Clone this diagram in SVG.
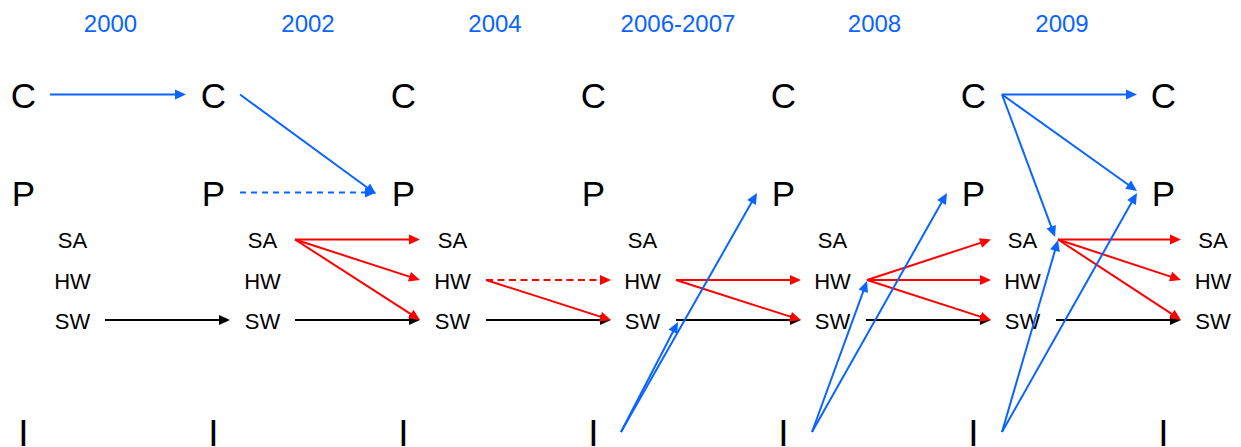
<svg xmlns="http://www.w3.org/2000/svg" width="1241" height="447" viewBox="0 0 1241 447">
<style>
text{font-family:"Liberation Sans",Arial,sans-serif;text-anchor:middle;fill:#000}
.yr{font-size:24px;fill:#0a64ff}
.big{font-size:35px}
.sm{font-size:22px}
.tick{font-size:37px}
.b{stroke:#0a64ff;stroke-width:2;fill:none}
.r{stroke:#ff0000;stroke-width:2;fill:none}
.k{stroke:#000;stroke-width:2;fill:none}
.bd{stroke-dasharray:6,5}
.rd{stroke-dasharray:7,4.5}
.b{marker-end:url(#ab)}
.r{marker-end:url(#ar)}
.k{marker-end:url(#ak)}
</style>
<defs>
<marker id="ab" markerUnits="userSpaceOnUse" markerWidth="12" markerHeight="11" refX="8" refY="5" orient="auto" overflow="visible"><path d="M0,0L11,5L0,10z" fill="#0a64ff"/></marker>
<marker id="ar" markerUnits="userSpaceOnUse" markerWidth="12" markerHeight="11" refX="8" refY="5" orient="auto" overflow="visible"><path d="M0,0L11,5L0,10z" fill="#ff0000"/></marker>
<marker id="ak" markerUnits="userSpaceOnUse" markerWidth="12" markerHeight="11" refX="8" refY="5" orient="auto" overflow="visible"><path d="M0,0L11,5L0,10z" fill="#000"/></marker>
</defs>
<g id="years">
<text class="yr" x="110.5" y="32">2000</text>
<text class="yr" x="308" y="32">2002</text>
<text class="yr" x="495" y="32">2004</text>
<text class="yr" x="678" y="32">2006-2007</text>
<text class="yr" x="874.5" y="32">2008</text>
<text class="yr" x="1062" y="32">2009</text>
</g>
<g id="C1"><text class="big" x="23.5" y="108">C</text></g>
<g id="C2"><text class="big" x="213.5" y="108">C</text></g>
<g id="C3"><text class="big" x="403.5" y="108">C</text></g>
<g id="C4"><text class="big" x="593.5" y="108">C</text></g>
<g id="C5"><text class="big" x="783.5" y="108">C</text></g>
<g id="C6"><text class="big" x="973.5" y="108">C</text></g>
<g id="C7"><text class="big" x="1163.5" y="108">C</text></g>
<g id="P1"><text class="big" x="23.5" y="206">P</text></g>
<g id="P2"><text class="big" x="213.5" y="206">P</text></g>
<g id="P3"><text class="big" x="403.5" y="206">P</text></g>
<g id="P4"><text class="big" x="593.5" y="206">P</text></g>
<g id="P5"><text class="big" x="783.5" y="206">P</text></g>
<g id="P6"><text class="big" x="973.5" y="206">P</text></g>
<g id="P7"><text class="big" x="1163.5" y="206">P</text></g>
<g id="SA1"><text class="sm" x="72.5" y="248">SA</text></g>
<g id="SA2"><text class="sm" x="262.5" y="248">SA</text></g>
<g id="SA3"><text class="sm" x="452.5" y="248">SA</text></g>
<g id="SA4"><text class="sm" x="642.5" y="248">SA</text></g>
<g id="SA5"><text class="sm" x="832.5" y="248">SA</text></g>
<g id="SA6"><text class="sm" x="1022.5" y="248">SA</text></g>
<g id="SA7"><text class="sm" x="1213" y="248">SA</text></g>
<g id="HW1"><text class="sm" x="72.5" y="289">HW</text></g>
<g id="HW2"><text class="sm" x="262.5" y="289">HW</text></g>
<g id="HW3"><text class="sm" x="452.5" y="289">HW</text></g>
<g id="HW4"><text class="sm" x="642.5" y="289">HW</text></g>
<g id="HW5"><text class="sm" x="832.5" y="289">HW</text></g>
<g id="HW6"><text class="sm" x="1022.5" y="289">HW</text></g>
<g id="HW7"><text class="sm" x="1213" y="289">HW</text></g>
<g id="SW1"><text class="sm" x="72.5" y="329">SW</text></g>
<g id="SW2"><text class="sm" x="262.5" y="329">SW</text></g>
<g id="SW3"><text class="sm" x="452.5" y="329">SW</text></g>
<g id="SW4"><text class="sm" x="642.5" y="329">SW</text></g>
<g id="SW5"><text class="sm" x="832.5" y="329">SW</text></g>
<g id="SW6"><text class="sm" x="1022.5" y="329">SW</text></g>
<g id="SW7"><text class="sm" x="1213" y="329">SW</text></g>
<g id="I1"><text class="tick" x="23.5" y="446">I</text></g>
<g id="I2"><text class="tick" x="213.5" y="446">I</text></g>
<g id="I3"><text class="tick" x="403.5" y="446">I</text></g>
<g id="I4"><text class="tick" x="593.5" y="446">I</text></g>
<g id="I5"><text class="tick" x="783.5" y="446">I</text></g>
<g id="I6"><text class="tick" x="973.5" y="446">I</text></g>
<g id="I7"><text class="tick" x="1163.5" y="446">I</text></g>
<g id="connectors">
<line class="b" x1="50" y1="94.5" x2="183" y2="94.5"/>
<line class="b" x1="240" y1="94.5" x2="373.6" y2="192.2"/>
<line class="b bd" x1="240" y1="192.5" x2="373" y2="192.5"/>
<line class="k" x1="105" y1="320" x2="227" y2="320"/>
<line class="k" x1="295" y1="320" x2="417" y2="320"/>
<line class="k" x1="486" y1="320" x2="608" y2="320"/>
<line class="k" x1="676" y1="320" x2="798" y2="320"/>
<line class="k" x1="866" y1="320" x2="988" y2="320"/>
<line class="k" x1="1056" y1="320" x2="1178" y2="320"/>
<line class="r" x1="295" y1="239.5" x2="417" y2="239.5"/>
<line class="r" x1="295" y1="239.5" x2="417.1" y2="279.1"/>
<line class="r" x1="295" y1="239.5" x2="417.5" y2="318.4"/>
<line class="r rd" x1="486" y1="280" x2="608" y2="280"/>
<line class="r" x1="486" y1="280" x2="608.1" y2="319.1"/>
<line class="r" x1="676" y1="280" x2="798" y2="280"/>
<line class="r" x1="676" y1="280" x2="798.1" y2="319.1"/>
<line class="r" x1="867" y1="280" x2="988.1" y2="240.4"/>
<line class="r" x1="867" y1="280" x2="988" y2="280"/>
<line class="r" x1="867" y1="280" x2="988.1" y2="319.1"/>
<line class="r" x1="1058" y1="239.5" x2="1178" y2="239.5"/>
<line class="r" x1="1058" y1="239.5" x2="1178.2" y2="279.1"/>
<line class="r" x1="1058" y1="239.5" x2="1178.5" y2="318.4"/>
<line class="b" x1="621" y1="432" x2="676.6" y2="324.7"/>
<line class="b" x1="621" y1="432" x2="755.5" y2="195.6"/>
<line class="b" x1="812" y1="432" x2="866" y2="283.8"/>
<line class="b" x1="812" y1="432" x2="945.5" y2="195.6"/>
<line class="b" x1="1002" y1="432" x2="1057.2" y2="242.9"/>
<line class="b" x1="1002" y1="432" x2="1135.5" y2="195.6"/>
<line class="b" x1="1002" y1="94.5" x2="1134" y2="94.5"/>
<line class="b" x1="1002" y1="94.5" x2="1134.6" y2="189.3"/>
<line class="b" x1="1002" y1="94.5" x2="1054" y2="234.2"/>
</g>
</svg>
